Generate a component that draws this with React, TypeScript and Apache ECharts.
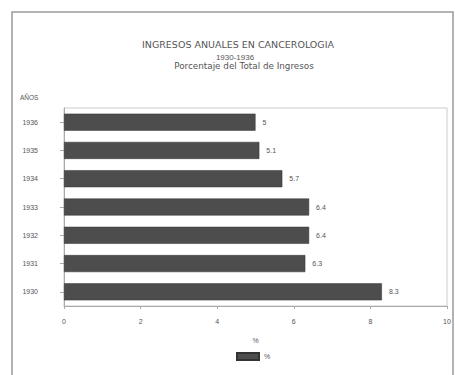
import React, { useEffect, useRef } from "react";
import * as echarts from "echarts";

const years = ["1930", "1931", "1932", "1933", "1934", "1935", "1936"];
const percentages = [8.3, 6.3, 6.4, 6.4, 5.7, 5.1, 5];
const xTicks = [0, 2, 4, 6, 8, 10];
const titleText = "INGRESOS ANUALES EN CANCEROLOGIA";
const subtitleYears = "1930-1936";
const subtitleText = "Porcentaje del Total de Ingresos";
const seriesName = "%";

export default function App() {
  const ref = useRef<HTMLDivElement>(null);
  useEffect(() => {
    document.body.style.margin = "0";
    const chart = echarts.init(ref.current!, null, { renderer: "svg" });
    const textColor = "#555";
    chart.setOption({
      animation: false,
      backgroundColor: "#fff",
      textStyle: { fontFamily: "DejaVu Sans" },
      graphic: [
        {
          type: "rect",
          shape: { x: 12, y: 12, width: 441, height: 380 },
          style: { fill: "none", stroke: "#9a9a9a", lineWidth: 1.5 },
          silent: true,
        },
        {
          type: "text",
          x: 238,
          y: 44,
          style: { text: titleText, fill: textColor, font: "9.5px 'DejaVu Sans'", textAlign: "center", textVerticalAlign: "middle" },
        },
        {
          type: "text",
          x: 235,
          y: 57,
          style: { text: subtitleYears, fill: textColor, font: "8px 'Liberation Sans'", textAlign: "center", textVerticalAlign: "middle" },
        },
        {
          type: "text",
          x: 244,
          y: 66,
          style: { text: subtitleText, fill: textColor, font: "8.8px 'DejaVu Sans'", textAlign: "center", textVerticalAlign: "middle" },
        },
        {
          type: "text",
          x: 20,
          y: 97,
          style: { text: "AÑOS", fill: textColor, font: "6.5px 'Liberation Sans'", textAlign: "left", textVerticalAlign: "middle" },
        },
      ],
      legend: {
        bottom: 9,
        left: 231,
        itemWidth: 22,
        itemHeight: 7,
        itemGap: 6,
        icon: "rect",
        textStyle: { color: textColor, fontSize: 7, fontFamily: "Liberation Sans" },
        data: [seriesName],
      },
      grid: { left: 64, right: 8, top: 108, bottom: 69, show: true, borderColor: "#ccc", borderWidth: 1 },
      xAxis: {
        type: "value",
        min: 0,
        max: 10,
        interval: 2,
        name: seriesName,
        nameLocation: "middle",
        nameGap: 31,
        nameTextStyle: { color: textColor, fontSize: 7, fontFamily: "Liberation Sans" },
        axisLine: { show: true, lineStyle: { color: "#aaa" } },
        axisTick: { show: true, length: 3, lineStyle: { color: "#aaa" } },
        splitLine: { show: false },
        axisLabel: {
          color: textColor,
          fontSize: 7,
          fontFamily: "Liberation Sans",
          margin: 12,
          formatter: (v: number) => (xTicks.includes(v) ? String(v) : ""),
        },
      },
      yAxis: {
        type: "category",
        data: years,
        axisLine: { show: true, lineStyle: { color: "#aaa" } },
        axisTick: { show: true, length: 4, alignWithLabel: true, lineStyle: { color: "#aaa" } },
        axisLabel: { color: textColor, fontSize: 7, fontFamily: "Liberation Sans", margin: 26 },
      },
      series: [
        {
          name: seriesName,
          type: "bar",
          data: percentages,
          barWidth: 17,
          itemStyle: { color: "#4d4d4d", borderColor: "#333", borderWidth: 0.5 },
          label: {
            show: true,
            position: "right",
            distance: 7,
            color: textColor,
            fontSize: 7,
            fontFamily: "Liberation Sans",
          },
        },
      ],
    });
    return () => chart.dispose();
  }, []);
  return <div ref={ref} style={{ width: 455, height: 375 }} />;
}
